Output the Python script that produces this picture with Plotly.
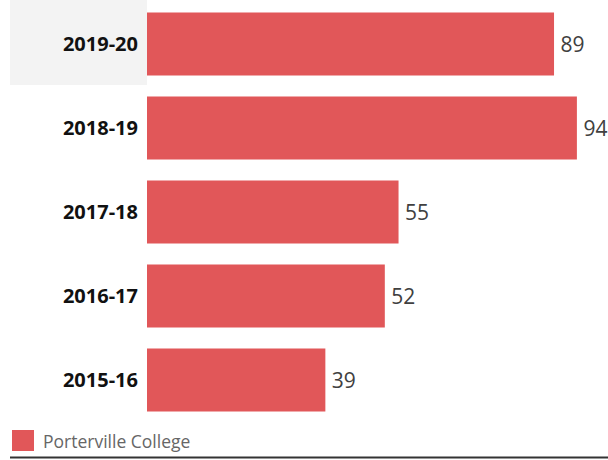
import plotly.graph_objects as go

years = ["2015-16", "2016-17", "2017-18", "2018-19", "2019-20"]
values = [39, 52, 55, 94, 89]
series_name = "Porterville College"

W, H = 608, 460
L, R, T, B = 147, 0, 2, 38
pw, ph = W - L - R, H - T - B

def px_x(p):
    return (p - L) / pw

def px_y(p):
    return (H - B - p) / ph

fig = go.Figure()
fig.add_trace(go.Bar(
    y=years, x=values, orientation="h", name=series_name,
    marker=dict(color="#E15759", line=dict(width=0)),
    texttemplate="\u2009%{x}", textposition="outside",
    textfont=dict(family="Open Sans", size=21, color="#404040"),
    cliponaxis=False, showlegend=False,
))

fig.update_layout(
    width=W, height=H,
    margin=dict(l=L, r=R, t=T, b=B),
    paper_bgcolor="white", plot_bgcolor="white",
    bargap=0.25,
    xaxis=dict(range=[0, 100.8], visible=False, fixedrange=True),
    yaxis=dict(showgrid=False, zeroline=False, showline=False, ticks="",
               tickfont=dict(family="Open Sans", size=20, color="#111111", weight="bold"),
               ticklabelstandoff=8),
    shapes=[
        dict(type="rect", xref="paper", yref="paper",
             x0=px_x(10), x1=0, y0=px_y(85), y1=px_y(0),
             fillcolor="#F3F3F3", line=dict(width=0), layer="below"),
        dict(type="rect", xref="paper", yref="paper",
             x0=px_x(12), x1=px_x(34), y0=px_y(451), y1=px_y(430),
             fillcolor="#E15759", line=dict(width=0)),
        dict(type="line", xref="paper", yref="paper",
             x0=px_x(10), x1=1, y0=px_y(457.5), y1=px_y(457.5),
             line=dict(color="#333333", width=2)),
    ],
    annotations=[
        dict(text=series_name, xref="paper", yref="paper",
             x=px_x(41), y=px_y(441), xanchor="left", yanchor="middle",
             showarrow=False, font=dict(family="Open Sans", size=17.5, color="#666666")),
    ],
)

fig.write_html("out.html")
